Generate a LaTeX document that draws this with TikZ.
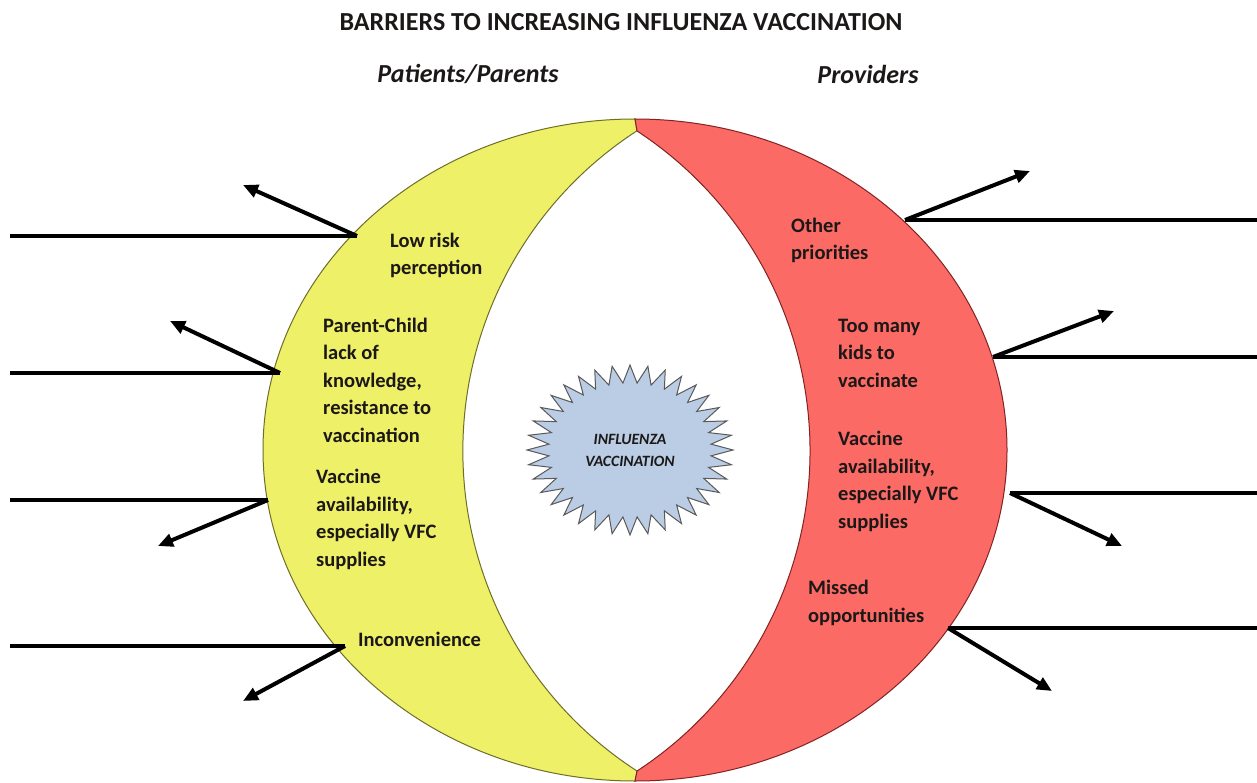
\documentclass[tikz,border=0pt]{standalone}
\usepackage{fontspec}
\setmainfont{Carlito}
\usepackage{tikz}
\usetikzlibrary{arrows.meta,calc}

\definecolor{patyellow}{RGB}{238,240,104}
\definecolor{patedge}{RGB}{110,110,40}
\definecolor{provred}{RGB}{251,106,100}
\definecolor{provedge}{RGB}{130,35,35}
\definecolor{starblue}{RGB}{186,205,228}
\definecolor{inkdark}{RGB}{28,24,24}

\begin{document}
\begin{tikzpicture}[x=1pt,y=-1pt,
  barrier/.style={anchor=base west,align=left,inner sep=0pt,text=inkdark,
    font=\fontsize{20.5}{27.5}\selectfont\bfseries},
  side/.style={font=\fontsize{26}{30}\selectfont\bfseries\itshape,text=inkdark},
  force/.style={line width=4pt},
  push/.style={line width=4pt,-{Triangle[length=15pt,width=13pt]}}]

\useasboundingbox (0,0) rectangle (1257,783);

% the two halves of the circle; the white lens between them is two circular arcs
\filldraw[fill=patyellow,draw=patedge,line width=1pt]
  (635,119) arc[start angle=90,end angle=270,x radius=372pt,y radius=331pt]
  -- (637,771) arc[start angle=237.1,end angle=122.9,radius=381.25pt]
  -- cycle;
\filldraw[fill=provred,draw=provedge,line width=1pt]
  (635,119) arc[start angle=90,end angle=-90,x radius=372pt,y radius=331pt]
  -- (637,771) arc[start angle=-56.8,end angle=56.8,radius=382.45pt]
  -- cycle;

% starburst in the middle
\coordinate (burst) at (630,450);
\filldraw[fill=starblue,draw=black!65,line width=1pt]
  ($(burst)+(0:103pt and 85pt)$)
  \foreach \k [evaluate=\k as \r using {mod(\k,2)==1 ? 0.79 : 1}] in {1,...,71}
    { -- ($(burst)+({\k*5}:{\r*103pt} and {\r*85pt})$) }
  -- cycle;
\node[align=center,text=inkdark,font=\fontsize{15.7}{22}\selectfont\bfseries\itshape]
  (flu) at (burst) {INFLUENZA\\VACCINATION};

% headings
\node[font=\fontsize{26}{30}\selectfont\bfseries,text=inkdark] (title) at (621,22)
  {BARRIERS TO INCREASING INFLUENZA VACCINATION};
\node[side] (patients) at (468,74) {Patients/Parents};
\node[side] (providers) at (868,74) {Providers};

% patient barriers (placed by the baseline of their last line)
\node[barrier] (lowrisk) at (390,275) {Low risk\\perception};
\node[barrier] (knowledge) at (323,442) {Parent-Child\\lack of\\knowledge,\\resistance to\\vaccination};
\node[barrier] (pavail) at (316,566) {Vaccine\\availability,\\especially VFC\\supplies};
\node[barrier] (inconv) at (358,646) {Inconvenience};

% provider barriers
\node[barrier] (priorities) at (791,260) {Other\\priorities};
\node[barrier] (toomany) at (838,387) {Too many\\kids to\\vaccinate};
\node[barrier] (vavail) at (838,528) {Vaccine\\availability,\\especially VFC\\supplies};
\node[barrier] (missed) at (808,622) {Missed\\opportunities};

% force lines on the patient side
\coordinate (p1) at (357,236);
\coordinate (p1end) at (10,236);
\coordinate (p1tip) at (243,185);
\coordinate (p2) at (280,373);
\coordinate (p2end) at (10,373);
\coordinate (p2tip) at (170,321);
\coordinate (p3) at (268,500);
\coordinate (p3end) at (10,500);
\coordinate (p3tip) at (158,546);
\coordinate (p4) at (345,646);
\coordinate (p4end) at (10,646);
\coordinate (p4tip) at (243,701);
\draw[force] (p1end) -- (p1);
\draw[push] (p1) -- (p1tip);
\draw[force] (p2end) -- (p2);
\draw[push] (p2) -- (p2tip);
\draw[force] (p3end) -- (p3);
\draw[push] (p3) -- (p3tip);
\draw[force] (p4end) -- (p4);
\draw[push] (p4) -- (p4tip);

% force lines on the provider side
\coordinate (v1) at (905,220);
\coordinate (v1end) at (1257,220);
\coordinate (v1tip) at (1030,171);
\coordinate (v2) at (993,357);
\coordinate (v2end) at (1257,357);
\coordinate (v2tip) at (1114,311);
\coordinate (v3) at (1010,493);
\coordinate (v3end) at (1257,493);
\coordinate (v3tip) at (1122,546);
\coordinate (v4) at (948,628);
\coordinate (v4end) at (1257,628);
\coordinate (v4tip) at (1052,691);
\draw[force] (v1) -- (v1end);
\draw[push] (v1) -- (v1tip);
\draw[force] (v2) -- (v2end);
\draw[push] (v2) -- (v2tip);
\draw[force] (v3) -- (v3end);
\draw[push] (v3) -- (v3tip);
\draw[force] (v4) -- (v4end);
\draw[push] (v4) -- (v4tip);

\end{tikzpicture}
\end{document}
